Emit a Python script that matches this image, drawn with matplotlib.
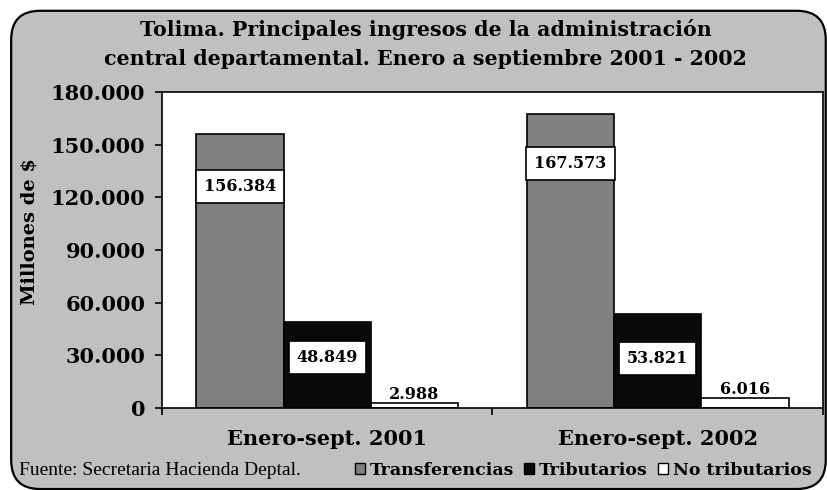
import numpy as np
import matplotlib.pyplot as plt
from matplotlib.patches import FancyBboxPatch, Patch

# datos (millones de $)
periodos = ["Enero-sept. 2001", "Enero-sept. 2002"]
series = ["Transferencias", "Tributarios", "No tributarios"]
transferencias = [156384, 167573]
tributarios = [48849, 53821]
no_tributarios = [2988, 6016]
yticks = [0, 30000, 60000, 90000, 120000, 150000, 180000]

colores = ["#808080", "#0a0a0a", "#ffffff"]
negrita = "DejaVu Serif"
fuente = "Liberation Serif"

def fmt(v):
    return "{:,}".format(v).replace(",", ".")

fig = plt.figure(figsize=(8.27, 4.90), dpi=100)
fig.patch.set_facecolor("white")

# marco gris redondeado (detras de los ejes)
fondo = FancyBboxPatch((0.0135, 0.002), 0.985, 0.976,
                       boxstyle="round,pad=0,rounding_size=0.035",
                       transform=fig.transFigure, facecolor="#c0c0c0",
                       edgecolor="black", linewidth=1.6, mutation_aspect=1.69,
                       zorder=-10)
fig.add_artist(fondo)

ax = fig.add_axes([0.196, 0.167, 0.799, 0.645])
ax.set_facecolor("white")

x = np.arange(len(periodos))
w = 0.264
datos = [transferencias, tributarios, no_tributarios]
barras = []
for i, (vals, c) in enumerate(zip(datos, colores)):
    b = ax.bar(x + (i - 1) * w, vals, w, color=c, edgecolor="black", linewidth=1.2)
    barras.append(b)

ax.set_xlim(-0.5, 1.5)
ax.set_ylim(0, 180000)
ax.set_yticks(yticks)
ax.set_yticklabels([fmt(v) for v in yticks], fontfamily=negrita,
                   fontweight="bold", fontsize=15)
ax.set_xticks(x)
ax.set_xticklabels(periodos, fontfamily=negrita, fontweight="bold", fontsize=15)
ax.tick_params(axis="x", length=0, pad=15)
ax.set_xticks([-0.5, 0.5, 1.5], minor=True)
ax.tick_params(axis="x", which="minor", length=5, width=1.2, direction="out")
ax.tick_params(axis="y", length=5, width=1.2, direction="out", pad=7)
for s in ax.spines.values():
    s.set_linewidth(1.2)
ax.set_ylabel("Millones de $", fontfamily=negrita, fontweight="bold", fontsize=14)
ax.yaxis.set_label_coords(-0.187, 0.56)

# etiquetas de datos
caja = dict(boxstyle="square,pad=0.5", facecolor="white", edgecolor="black", linewidth=1.2)
offs = [(-38, -36), (-25, -32)]
for i in range(2):
    for j in range(2):
        b = barras[i][j]
        ax.annotate(fmt(datos[i][j]), (b.get_x() + b.get_width() / 2, b.get_height()),
                    xytext=(0, offs[i][j]), textcoords="offset points", ha="center",
                    va="center", fontfamily=negrita, fontweight="bold", fontsize=11.5,
                    bbox=caja)
for j in range(2):
    b = barras[2][j]
    ax.annotate(fmt(datos[2][j]), (b.get_x() + b.get_width() / 2, b.get_height()),
                xytext=(0, 0), textcoords="offset points", ha="center", va="bottom",
                fontfamily=negrita, fontweight="bold", fontsize=11.5)

fig.text(0.515, 0.939, "Tolima. Principales ingresos de la administración",
         ha="center", va="center", fontfamily=negrita, fontweight="bold", fontsize=14.8)
fig.text(0.515, 0.880, "central departamental. Enero a septiembre 2001 - 2002",
         ha="center", va="center", fontfamily=negrita, fontweight="bold", fontsize=14.8)

fig.text(0.023, 0.040, "Fuente: Secretaria Hacienda Deptal.", ha="left", va="center",
         fontfamily=fuente, fontsize=14)

handles = [Patch(facecolor=c, edgecolor="black", linewidth=1) for c in colores]
fig.legend(handles, series, loc="center right", bbox_to_anchor=(1.0, 0.040),
           ncol=3, frameon=False, handlelength=0.6, handleheight=0.6,
           handletextpad=0.25, columnspacing=0.6,
           prop=dict(family=negrita, weight="bold", size=12.5))

fig.savefig("out.png", dpi=100)
